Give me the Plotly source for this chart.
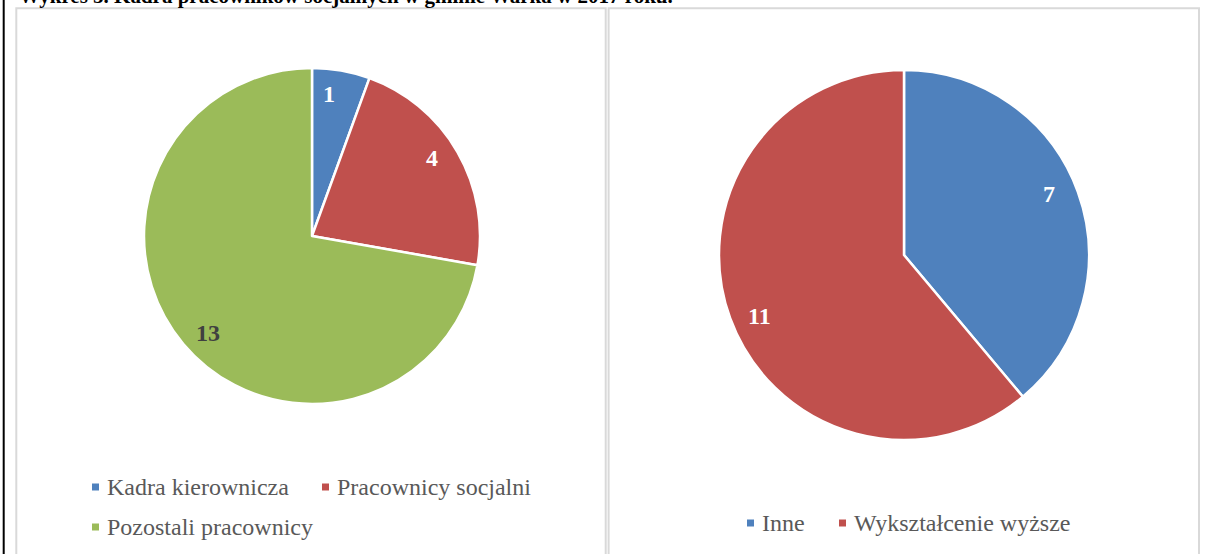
import math
import plotly.graph_objects as go

W, H = 1223, 554

title_text = "Wykres 5. Kadra pracowników socjalnych w gminie Warka w 2017 roku."

left_labels = ["Kadra kierownicza", "Pracownicy socjalni", "Pozostali pracownicy"]
left_values = [1, 4, 13]
left_colors = ["#4F81BD", "#C0504D", "#9BBB59"]
left_text_colors = ["#FFFFFF", "#FFFFFF", "#404040"]

right_labels = ["Inne", "Wykształcenie wyższe"]
right_values = [7, 11]
right_colors = ["#4F81BD", "#C0504D"]
right_text_colors = ["#FFFFFF", "#FFFFFF"]

SERIF = "Liberation Serif, Times New Roman, serif"


def px(x):
    return x / W


def py(y):
    return 1 - y / H


fig = go.Figure()

# pie geometry in pixels: center x, center y, radius
pies = [
    dict(labels=left_labels, values=left_values, colors=left_colors, tcol=left_text_colors, cx=312, cy=236, r=168),
    dict(labels=right_labels, values=right_values, colors=right_colors, tcol=right_text_colors, cx=904, cy=255, r=185),
]

annotations = []
for p in pies:
    fig.add_trace(go.Pie(
        labels=p["labels"], values=p["values"], sort=False, direction="clockwise", rotation=0,
        marker=dict(colors=p["colors"], line=dict(color="white", width=2.5)),
        textinfo="none", hoverinfo="skip", showlegend=False,
        domain=dict(x=[px(p["cx"] - p["r"]), px(p["cx"] + p["r"])],
                    y=[py(p["cy"] + p["r"]), py(p["cy"] - p["r"])]),
    ))
    total = sum(p["values"])
    cum = 0
    for v, c in zip(p["values"], p["tcol"]):
        mid = (cum + v / 2) / total
        cum += v
        ang = math.radians(90 - 360 * mid + 3)
        rr = 0.85 * p["r"]
        annotations.append(dict(
            x=px(p["cx"] + rr * math.cos(ang)), y=py(p["cy"] - rr * math.sin(ang)),
            xref="paper", yref="paper", text=f"<b>{v}</b>", showarrow=False,
            font=dict(family=SERIF, size=24, color=c), xanchor="center", yanchor="middle",
        ))

# title (cut off at top, as in the source)
annotations.append(dict(
    x=px(17), y=py(10), xref="paper", yref="paper", text=f"<b>{title_text}</b>",
    showarrow=False, xanchor="left", yanchor="bottom",
    font=dict(family=SERIF, size=21, color="black"),
))

# legends: (label, color, square x, y center)
legend_items = [
    (left_labels[0], left_colors[0], 92, 487),
    (left_labels[1], left_colors[1], 322, 487),
    (left_labels[2], left_colors[2], 92, 527),
    (right_labels[0], right_colors[0], 747, 523),
    (right_labels[1], right_colors[1], 839, 523),
]

shapes = []
for lab, col, sx, sy in legend_items:
    shapes.append(dict(type="rect", xref="paper", yref="paper",
                       x0=px(sx), x1=px(sx + 7), y0=py(sy + 3.5), y1=py(sy - 3.5),
                       fillcolor=col, line=dict(width=0)))
    annotations.append(dict(
        x=px(sx + 13), y=py(sy), xref="paper", yref="paper", text=lab, showarrow=False,
        xanchor="left", yanchor="middle", font=dict(family=SERIF, size=24, color="#595959"),
    ))

# frame lines
shapes.append(dict(type="line", xref="paper", yref="paper", x0=px(3.7), x1=px(3.7), y0=0, y1=1,
                   line=dict(color="black", width=2)))
for x0, x1 in [(16.3, 605.7), (608.6, 1199)]:
    shapes.append(dict(type="path", xref="paper", yref="paper",
                       path=f"M {px(x0)} 0 L {px(x0)} {py(8.3)} L {px(x1)} {py(8.3)} L {px(x1)} 0",
                       line=dict(color="#D9D9D9", width=2)))

fig.update_layout(
    width=W, height=H, margin=dict(l=0, r=0, t=0, b=0),
    paper_bgcolor="white", plot_bgcolor="white",
    showlegend=False, annotations=annotations, shapes=shapes,
)

fig.write_html("out.html", config={"displayModeBar": False},
               post_script="document.body.style.margin='0';document.body.style.overflow='hidden';")
